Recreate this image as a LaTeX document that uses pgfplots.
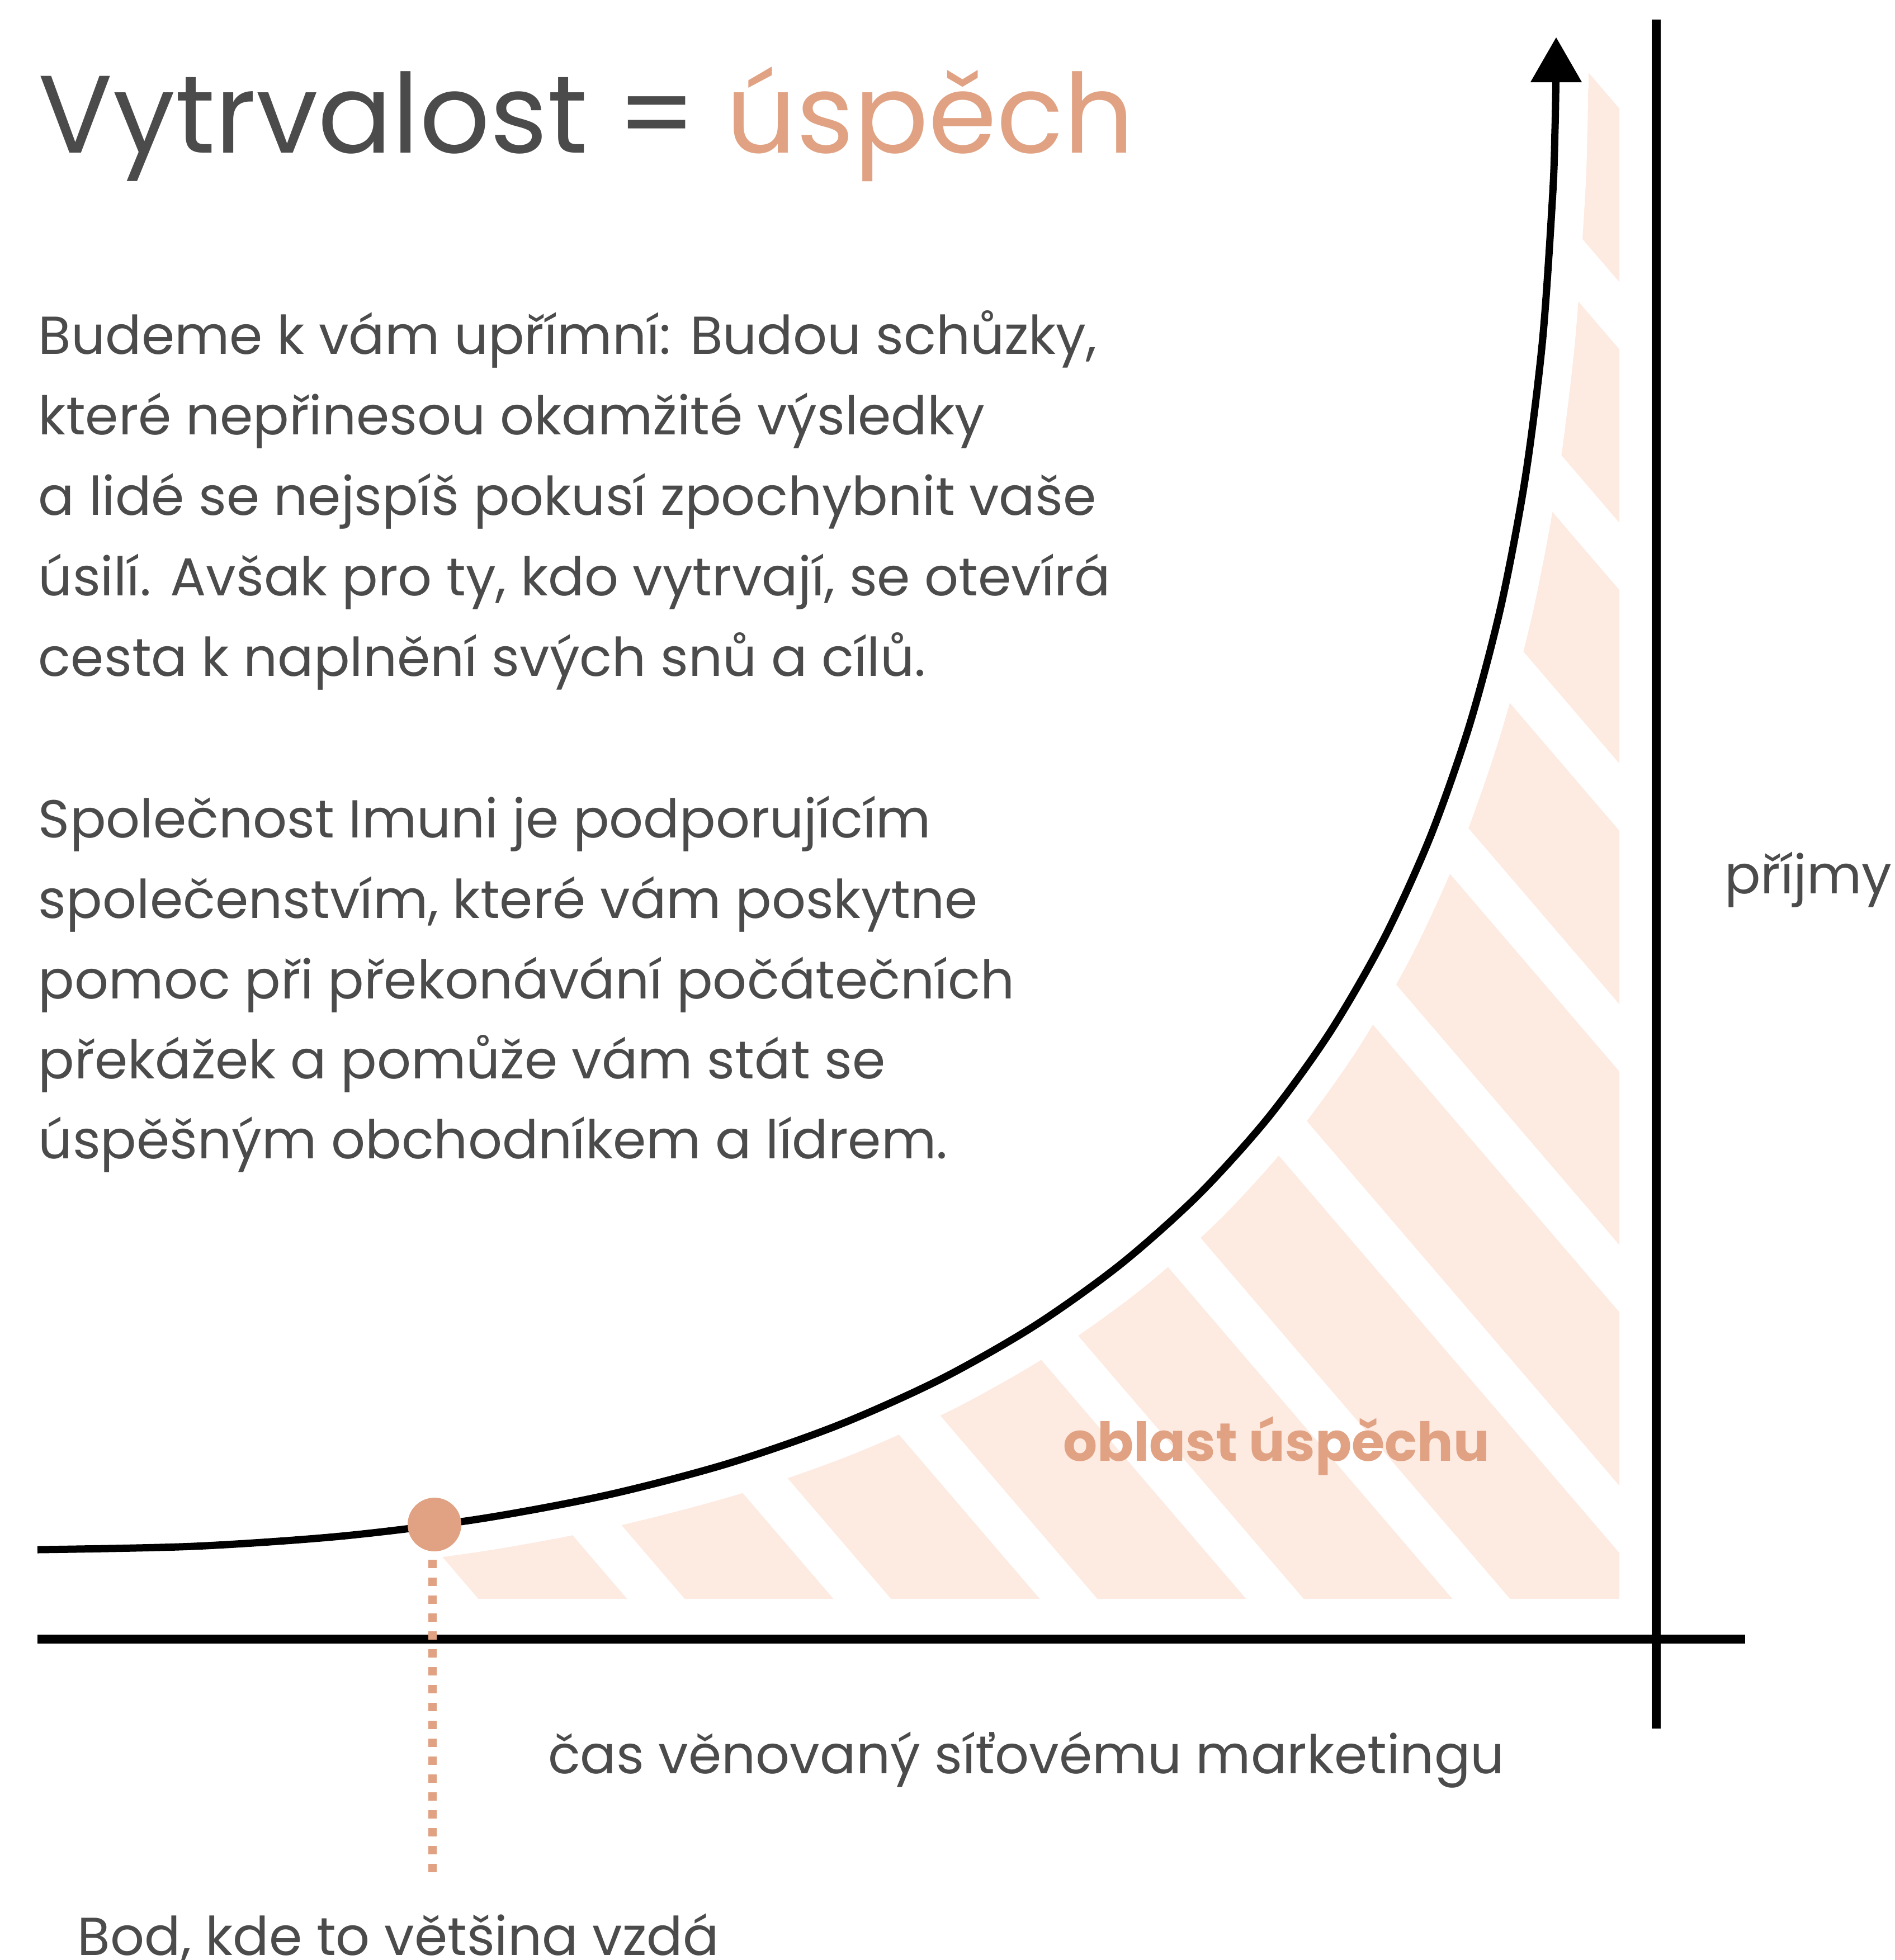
\documentclass[border=0pt]{standalone}
\usepackage{fontspec}
\setmainfont{Poppins}
\usepackage{pgfplots}
\pgfplotsset{compat=1.18}
\definecolor{txt}{HTML}{4B4B4B}
\definecolor{acc}{HTML}{E0A283}
\definecolor{pinkfill}{HTML}{FDEAE1}
\pgfplotstableread{
x y
67 2772
345.9 2766.0
608.4 2748.0
854.6 2717.5
1084.8 2674.5
1299.3 2618.7
1498.2 2549.6
1681.8 2467.3
1850.3 2371.4
2004.0 2261.6
2143.1 2137.6
2267.9 1999.3
2378.5 1846.4
2475.2 1678.7
2558.3 1495.8
2627.9 1297.5
2684.4 1083.7
2727.9 853.9
2758.7 608.1
2776.9 345.9
2780.8 236.3
2782.0 180.6
2782.8 124.1
}\curvedata
\begin{document}
\begin{tikzpicture}
\useasboundingbox (0,0) rectangle (338.9pt,350.6pt);
\clip (0,0) rectangle (338.9pt,350.6pt);
\begin{axis}[at={(0,0)}, anchor=south west, width=338.9pt, height=350.6pt,
  scale only axis, xmin=0, xmax=3389, ymin=0, ymax=3506, y dir=reverse,
  hide axis, clip=false]
% success area
\addplot[draw=none, fill=pinkfill] coordinates {(804,2860) (680,2715) (854.6,2717.5) (1084.8,2674.5) (1299.3,2618.7) (1498.2,2549.6) (1681.8,2467.3) (1850.3,2371.4) (2004.0,2261.6) (2143.1,2137.6) (2267.9,1999.3) (2378.5,1846.4) (2475.2,1678.7) (2558.3,1495.8) (2627.9,1297.5) (2684.4,1083.7) (2727.9,853.9) (2758.7,608.1) (2776.9,345.9) (2780.8,236.3) (2782.0,180.6) (2782.8,124.1) (2783,2) (2896,134) (2896,2860)} -- cycle;
% white stripes
\addplot[white, line width=7.8pt] coordinates {(924,3000) (-1796,-174)};
\addplot[white, line width=7.8pt] coordinates {(1293,3000) (-1427,-174)};
\addplot[white, line width=7.8pt] coordinates {(1662,3000) (-1058,-174)};
\addplot[white, line width=7.8pt] coordinates {(2031,3000) (-689,-174)};
\addplot[white, line width=7.8pt] coordinates {(2400,3000) (-320,-174)};
\addplot[white, line width=7.8pt] coordinates {(2769,3000) (49,-174)};
\addplot[white, line width=7.8pt] coordinates {(3138,3000) (418,-174)};
\addplot[white, line width=7.8pt] coordinates {(3507,3000) (787,-174)};
\addplot[white, line width=7.8pt] coordinates {(3876,3000) (1156,-174)};
\addplot[white, line width=7.8pt] coordinates {(4245,3000) (1525,-174)};
\addplot[white, line width=7.8pt] coordinates {(4614,3000) (1894,-174)};
\addplot[white, line width=7.8pt] coordinates {(4983,3000) (2263,-174)};
\addplot[white, line width=7.8pt] coordinates {(5352,3000) (2632,-174)};
% white band around the curve
\addplot[white, line width=11.6pt, smooth] table[x=x, y=y] {\curvedata};
\addplot[white, line width=11.6pt] coordinates {(2783,160) (2783,0)};
% curve
\addplot[black, line width=1.3pt, smooth] table[x=x, y=y] {\curvedata};
\addplot[fill=black, draw=none] coordinates {(2737,147) (2783,67) (2829,147)} -- cycle;
% axes
\addplot[black, line width=1.6pt] coordinates {(67,2932) (3121,2932)};
\addplot[black, line width=1.6pt] coordinates {(2962,35) (2962,3092)};
% give-up point
\addplot[acc, line width=1.5pt, dash pattern=on 1.5pt off 1.7pt] coordinates {(773,2790) (773,3362)};
\addplot[only marks, mark=*, mark size=4.6pt, color=acc, mark options={fill=acc, draw=acc}] coordinates {(777,2727)};
% texts
\node[anchor=base west, inner sep=0, font=\fontsize{19.7}{24}\selectfont, text=txt] at (axis cs:67,273) {Vytrvalost = \textcolor{acc}{úspěch}};
\begin{scope}[every node/.style={anchor=base west, inner sep=0, font=\fontsize{9.55}{12}\selectfont, text=txt}]
\node at (axis cs:67,633) {Budeme k vám upřímní: Budou schůzky,};
\node at (axis cs:67,777) {které nepřinesou okamžité výsledky};
\node at (axis cs:67,921) {a lidé se nejspíš pokusí zpochybnit vaše};
\node at (axis cs:67,1065) {úsilí. Avšak pro ty, kdo vytrvají, se otevírá};
\node at (axis cs:67,1209) {cesta k naplnění svých snů a cílů.};
\node at (axis cs:67,1498) {Společnost Imuni je podporujícím};
\node at (axis cs:67,1642) {společenstvím, které vám poskytne};
\node at (axis cs:67,1786) {pomoc při překonávání počátečních};
\node at (axis cs:67,1929) {překážek a pomůže vám stát se};
\node at (axis cs:67,2072) {úspěšným obchodníkem a lídrem.};
\node at (axis cs:137,3497) {Bod, kde to většina vzdá};
\node at (axis cs:3082,1598) {příjmy};
\node at (axis cs:978,3172) {čas věnovaný síťovému marketingu};
\end{scope}
\node[anchor=base west, inner sep=0, font=\fontsize{9.6}{12}\selectfont\bfseries, text=acc] at (axis cs:1899,2613) {oblast úspěchu};
\end{axis}
\end{tikzpicture}
\end{document}
